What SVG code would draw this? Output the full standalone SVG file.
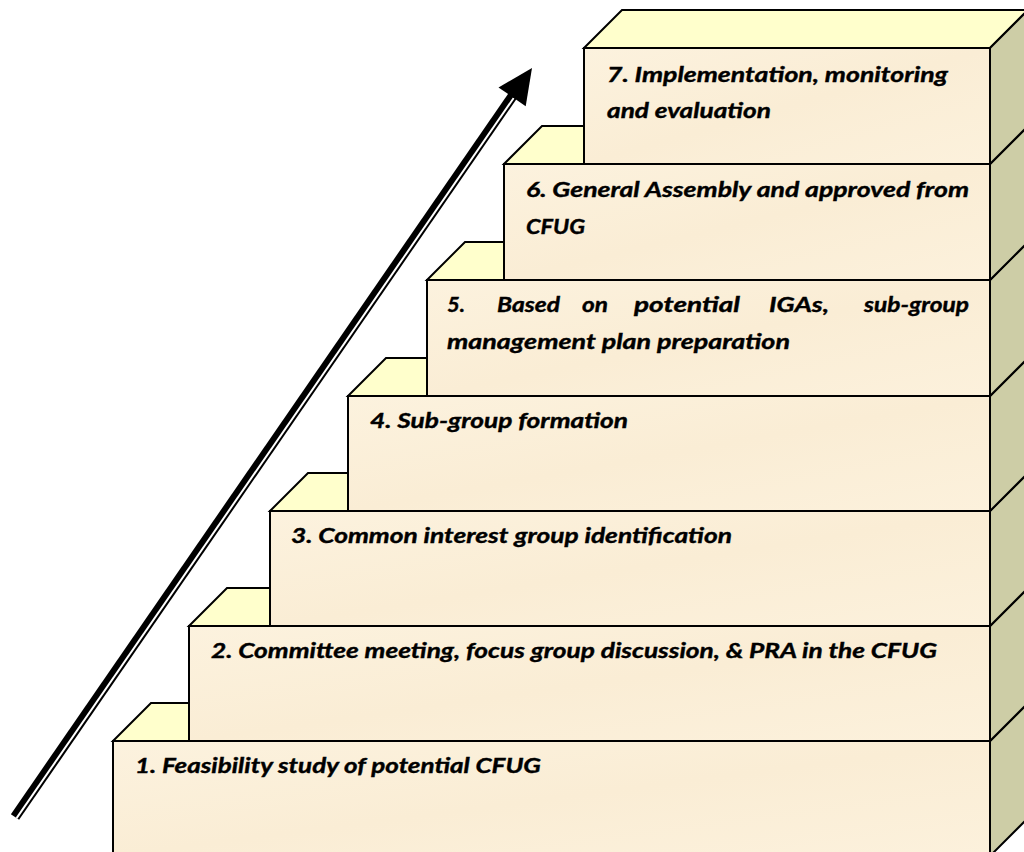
<svg xmlns="http://www.w3.org/2000/svg" width="1024" height="852" viewBox="0 0 1024 852">
<defs>
<linearGradient id="parch" x1="0" y1="0" x2="1" y2="1">
<stop offset="0" stop-color="#FCF2DE"/>
<stop offset="0.5" stop-color="#FAEDD5"/>
<stop offset="1" stop-color="#FCF1DC"/>
</linearGradient>
<style>
.front{fill:url(#parch);stroke:#000;stroke-width:2;stroke-linejoin:miter}
.top{fill:#FFFFCC;stroke:#000;stroke-width:2;stroke-linejoin:miter}
.side{fill:#CDCDA6;stroke:#000;stroke-width:2;stroke-linejoin:miter}
.t{font-family:Lato,"Open Sans","Liberation Sans",sans-serif;font-weight:bold;font-style:italic;font-size:21.5px;fill:#000;stroke:#000;stroke-width:0.4}
</style>
</defs>
<rect width="1024" height="852" fill="#fff"/>

<g id="step1">
<polygon class="top" points="113,741 151,703 1028,703 990,741"/>
<polygon class="side" points="990,741 1028,703 1028,818 990,856"/>
<rect class="front" x="113" y="741" width="877" height="115"/>
<text class="t" x="135" y="773" textLength="406" lengthAdjust="spacingAndGlyphs">1. Feasibility study of potential CFUG</text>
</g>

<g id="step2">
<polygon class="top" points="189,626 227,588 1028,588 990,626"/>
<polygon class="side" points="990,626 1028,588 1028,703 990,741"/>
<rect class="front" x="189" y="626" width="801" height="115"/>
<text class="t" x="211" y="658" textLength="726" lengthAdjust="spacingAndGlyphs">2. Committee meeting, focus group discussion, &amp; PRA in the CFUG</text>
</g>

<g id="step3">
<polygon class="top" points="270,511 308,473 1028,473 990,511"/>
<polygon class="side" points="990,511 1028,473 1028,588 990,626"/>
<rect class="front" x="270" y="511" width="720" height="115"/>
<text class="t" x="291" y="543" textLength="441" lengthAdjust="spacingAndGlyphs">3. Common interest group identification</text>
</g>

<g id="step4">
<polygon class="top" points="348,396 386,358 1028,358 990,396"/>
<polygon class="side" points="990,396 1028,358 1028,473 990,511"/>
<rect class="front" x="348" y="396" width="642" height="115"/>
<text class="t" x="370" y="428" textLength="258" lengthAdjust="spacingAndGlyphs">4. Sub-group formation</text>
</g>

<g id="step5">
<polygon class="top" points="427,280 465,242 1028,242 990,280"/>
<polygon class="side" points="990,280 1028,242 1028,358 990,396"/>
<rect class="front" x="427" y="280" width="563" height="116"/>
<text class="t" x="447" y="312" textLength="18" lengthAdjust="spacingAndGlyphs">5.</text>
<text class="t" x="497" y="312" textLength="63" lengthAdjust="spacingAndGlyphs">Based</text>
<text class="t" x="582" y="312" textLength="26" lengthAdjust="spacingAndGlyphs">on</text>
<text class="t" x="634" y="312" textLength="106" lengthAdjust="spacingAndGlyphs">potential</text>
<text class="t" x="769" y="312" textLength="60" lengthAdjust="spacingAndGlyphs">IGAs,</text>
<text class="t" x="864" y="312" textLength="105" lengthAdjust="spacingAndGlyphs">sub-group</text>
<text class="t" x="447" y="349" textLength="343" lengthAdjust="spacingAndGlyphs">management plan preparation</text>
</g>

<g id="step6">
<polygon class="top" points="504,164 542,126 1028,126 990,164"/>
<polygon class="side" points="990,164 1028,126 1028,242 990,280"/>
<rect class="front" x="504" y="164" width="486" height="116"/>
<text class="t" x="526" y="197" textLength="443" lengthAdjust="spacingAndGlyphs">6. General Assembly and approved from</text>
<text class="t" x="526" y="234" textLength="59" lengthAdjust="spacingAndGlyphs">CFUG</text>
</g>

<g id="step7">
<polygon class="top" points="584,48 622,10 1028,10 990,48"/>
<polygon class="side" points="990,48 1028,10 1028,126 990,164"/>
<rect class="front" x="584" y="48" width="406" height="116"/>
<text class="t" x="607" y="82" textLength="341" lengthAdjust="spacingAndGlyphs">7. Implementation, monitoring</text>
<text class="t" x="607" y="118" textLength="164" lengthAdjust="spacingAndGlyphs">and evaluation</text>
</g>

<g id="connectors">
<line x1="15" y1="817" x2="514" y2="94" stroke="#000" stroke-width="10"/>
<line x1="16.6" y1="818.1" x2="513.7" y2="98" stroke="#fff" stroke-width="2"/>
<polygon points="532,68 498.5,87.4 525.7,106.2" fill="#000"/>
</g>
</svg>
